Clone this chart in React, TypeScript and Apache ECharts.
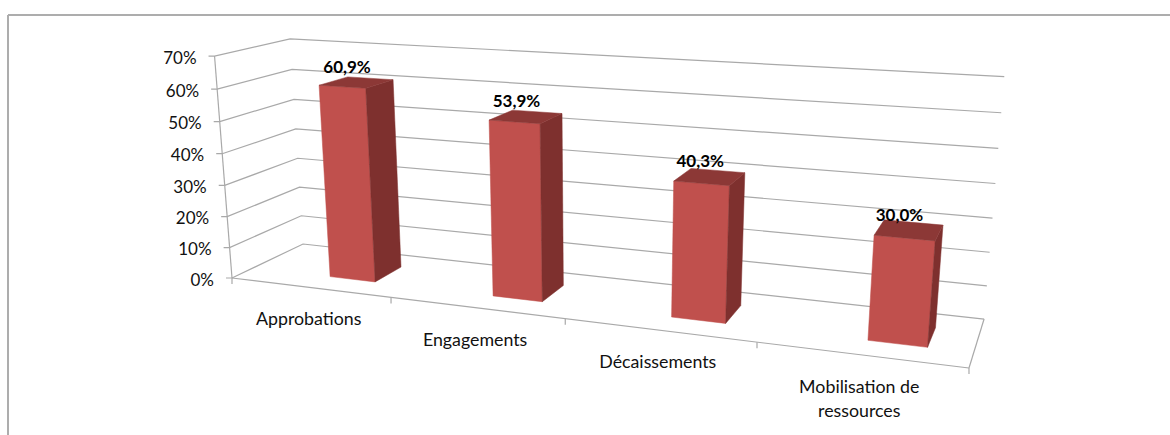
import React, { useEffect, useRef } from "react";
import * as echarts from "echarts";

const categories = ["Approbations", "Engagements", "Décaissements", "Mobilisation de\nressources"];
const completionRates = [60.9, 53.9, 40.3, 30.0];
const valueTicks = [0, 10, 20, 30, 40, 50, 60, 70];

const FONT = "Lato, 'Open Sans', sans-serif";
const GRID_COLOR = "#A9A9A9";

// Homogeneous perspective matrix of the chart box: screen = u*A + v*B + w*C + D,
// with u along the categories, v up the value axis and w into the depth, each in 0..1.
const A = [567.9, 25.8, -0.1745];
const B = [-27.2, -224.5, -0.0454];
const C = [97.1, -13, 0.086];
const D = [232, 278, 1];

function project(u: number, v: number, w: number): number[] {
  const h = u * A[2] + v * B[2] + w * C[2] + D[2];
  return [
    (u * A[0] + v * B[0] + w * C[0] + D[0]) / h,
    (u * A[1] + v * B[1] + w * C[1] + D[1]) / h,
  ];
}

// Turns a point of the flat grid, as the axes place it, into box coordinates.
function toBox(params: any, api: any, x: any, y: any): number[] {
  const cs = params.coordSys;
  const p = api.coord([x, y]);
  return [(p[0] - cs.x) / cs.width, 1 - (p[1] - cs.y) / cs.height];
}

function renderWall(params: any, api: any) {
  const value = api.value(1);
  const [, v] = toBox(params, api, 0, value);
  const front = project(0, v, 0);
  const line = (points: number[][]) => ({
    type: "polyline",
    shape: { points },
    style: { stroke: GRID_COLOR, lineWidth: 1.2, fill: "none" },
  });
  return {
    type: "group",
    children: [
      line([[front[0] - 6, front[1]], front, project(0, v, 1), project(1, v, 1)]),
      {
        type: "text",
        style: {
          text: `${value}%`,
          x: front[0] - 18,
          y: front[1] + 1,
          align: "right",
          verticalAlign: "middle",
          fontFamily: FONT,
          fontSize: 17,
          fill: "#111",
        },
      },
    ],
  };
}

function renderFloor(params: any, api: any) {
  const index = api.value(0);
  const cs = params.coordSys;
  const band = api.size([1, 0])[0] / cs.width;
  const [center] = toBox(params, api, index, 0);
  const tickAt = (u: number) => {
    const p = project(u, 0, 0);
    return {
      type: "line",
      shape: { x1: p[0], y1: p[1], x2: p[0], y2: p[1] + 6 },
      style: { stroke: GRID_COLOR, lineWidth: 1.2 },
    };
  };
  const anchor = project(center, 0, 0);
  const children: any[] = [
    tickAt(center + band / 2),
    {
      type: "text",
      style: {
        text: categories[index],
        x: anchor[0] - 1,
        y: anchor[1] + 19,
        align: "center",
        verticalAlign: "top",
        lineHeight: 24,
        fontFamily: FONT,
        fontSize: 17.8,
        fill: "#111",
      },
    },
  ];
  if (index === 0) children.push(tickAt(center - band / 2));
  return { type: "group", children };
}

function renderFrame() {
  const line = (a: number[], b: number[]) => ({
    type: "line",
    shape: { x1: a[0], y1: a[1], x2: b[0], y2: b[1] },
    style: { stroke: GRID_COLOR, lineWidth: 1.2 },
  });
  return {
    type: "group",
    children: [
      line(project(0, 0, 0), project(0, 1, 0)),
      line(project(0, 0, 0), project(1, 0, 0)),
      line(project(1, 0, 0), project(1, 0, 1)),
    ],
  };
}

function renderBar(params: any, api: any) {
  const index = api.value(0);
  const value = api.value(1);
  const cs = params.coordSys;
  const band = api.size([1, 0])[0] / cs.width;
  const [left, top] = toBox(params, api, index, value);
  const right = left + band * 0.285;
  const near = 0.29;
  const far = 0.7;
  const face = (points: number[][], fill: string) => ({
    type: "polygon",
    shape: { points },
    style: { fill, stroke: fill, lineWidth: 0.5 },
  });
  const labelAt = project((left + right) / 2, top, (near + far) / 2);
  return {
    type: "group",
    children: [
      face([project(left, 0, near), project(right, 0, near), project(right, top, near), project(left, top, near)], "#C0504D"),
      face([project(right, 0, near), project(right, 0, far), project(right, top, far), project(right, top, near)], "#7E302E"),
      face([project(left, top, near), project(right, top, near), project(right, top, far), project(left, top, far)], "#8C3836"),
      {
        type: "text",
        style: {
          text: `${value.toFixed(1).replace(".", ",")}%`,
          x: labelAt[0] - 9.5,
          y: labelAt[1] - 16,
          align: "center",
          verticalAlign: "middle",
          fontFamily: FONT,
          fontSize: 17,
          fontWeight: "bold",
          fill: "#000",
        },
      },
    ],
  };
}

export default function App() {
  const ref = useRef<HTMLDivElement>(null);

  useEffect(() => {
    document.body.style.margin = "0";
    const chart = echarts.init(ref.current!, undefined, { renderer: "svg" });
    chart.setOption({
      animation: false,
      backgroundColor: "#fff",
      grid: { left: 232, top: 56, width: 737, height: 222 },
      xAxis: { type: "category", data: categories, show: false },
      yAxis: { type: "value", min: 0, max: 70, interval: 10, show: false },
      graphic: [
        { type: "line", silent: true, shape: { x1: 8, y1: 15, x2: 1170, y2: 15 }, style: { stroke: "#ADADAD", lineWidth: 2 } },
        { type: "line", silent: true, shape: { x1: 8, y1: 15, x2: 8, y2: 435 }, style: { stroke: "#ADADAD", lineWidth: 2 } },
      ],
      series: [
        {
          type: "custom",
          silent: true,
          clip: false,
          renderItem: renderWall,
          encode: { x: 0, y: 1 },
          data: valueTicks.map((t) => [0, t]),
        },
        {
          type: "custom",
          silent: true,
          clip: false,
          renderItem: renderFloor,
          encode: { x: 0, y: 1 },
          data: categories.map((_, i) => [i, 0]),
        },
        {
          type: "custom",
          silent: true,
          clip: false,
          renderItem: renderFrame,
          encode: { x: 0, y: 1 },
          data: [[0, 0]],
        },
        {
          type: "custom",
          silent: true,
          clip: false,
          renderItem: renderBar,
          encode: { x: 0, y: 1 },
          data: completionRates.map((v, i) => [i, v]),
        },
      ],
    });
    return () => chart.dispose();
  }, []);

  return <div ref={ref} style={{ width: 1170, height: 435 }} />;
}
